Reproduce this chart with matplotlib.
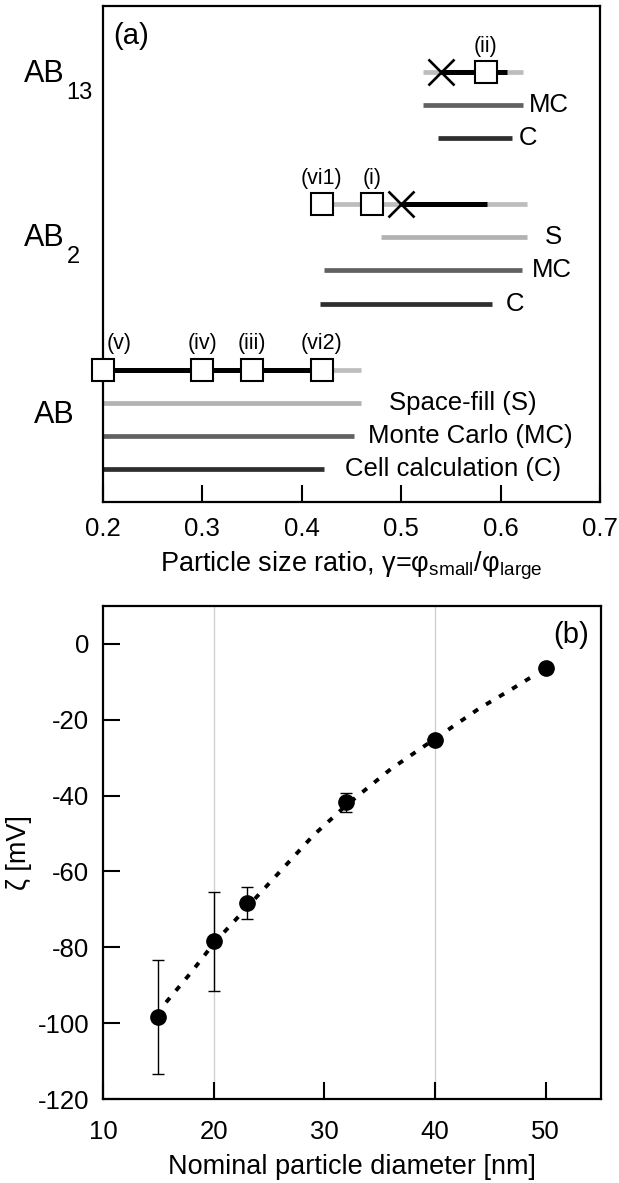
import numpy as np
import matplotlib
matplotlib.use("Agg")
import matplotlib.pyplot as plt
from matplotlib.transforms import blended_transform_factory

plt.rcParams["font.family"] = ["Liberation Sans", "DejaVu Sans"]
plt.rcParams["mathtext.fontset"] = "custom"
plt.rcParams["mathtext.rm"] = "Liberation Sans"
plt.rcParams["mathtext.it"] = "Liberation Sans:italic"
plt.rcParams["axes.unicode_minus"] = False

# ---------------------------------------------------------------- panel (a) data
# one row per horizontal bar, bottom to top (AB, then AB2, then AB13)
ROW_Y = [1, 2, 3, 6, 7, 8, 11, 12]
ROW_METHOD = ["C", "MC", "S", "C", "MC", "S", "C", "MC"]
ROW_LO = [0.200, 0.200, 0.200, 0.418, 0.422, 0.480, 0.537, 0.522]
ROW_HI = [0.422, 0.453, 0.460, 0.591, 0.622, 0.627, 0.611, 0.623]
ROW_TEXT = ["Cell calculation (C)", "Monte Carlo (MC)", "Space-fill (S)",
            "C", "MC", "S", "C", "MC"]
ROW_TEXT_X = [0.443, 0.467, 0.488, 0.605, 0.631, 0.644, 0.618, 0.628]

# experimental rows: gray = full range, black = observed range
EXP_Y = [4, 9, 13]
EXP_GRAY = [(0.200, 0.460), (0.420, 0.627), (0.522, 0.623)]
EXP_BLACK = [(0.200, 0.420), (0.500, 0.586), (0.540, 0.606)]
SQUARE_X = [0.200, 0.300, 0.350, 0.420, 0.420, 0.471, 0.585]
SQUARE_Y = [4, 4, 4, 4, 9, 9, 13]
SQUARE_TAG = ["(v)", "(iv)", "(iii)", "(vi2)", "(vi1)", "(i)", "(ii)"]
TAG_X = [0.216, 0.300, 0.350, 0.420, 0.420, 0.471, 0.585]
CROSS_X = [0.500, 0.540]
CROSS_Y = [9, 13]

GROUP_MAIN = ["AB", "AB", "AB"]
GROUP_SUB = ["", "2", "13"]
GROUP_Y = [2.39, 7.73, 12.70]
GROUP_SUB_Y = [0, 7.24, 12.18]

# ---------------------------------------------------------------- panel (b) data
DIAM = [15, 20, 23, 32, 40, 50]
ZETA = [-98.3, -78.4, -68.3, -41.7, -25.2, -6.3]
ZETA_ERR = [15.0, 13.0, 4.1, 2.5, 0.0, 0.0]
FIT_X = [15.7, 18, 20, 23, 26, 29, 32, 36, 40, 44, 47, 49]
FIT_Y = [-94.5, -86.5, -79.0, -69.5, -60.0, -50.5, -42.5, -33.0, -25.0, -17.0, -11.8, -8.2]
GRID_X = [20, 40]

COLORS = {"S": "#b2b2b2", "MC": "#616161", "C": "#2e2e2e"}
LIGHT = "#bdbdbd"

fig = plt.figure(figsize=(6.19, 11.83), dpi=100)
ax_a = fig.add_axes([0.1664, 0.5757, 0.8029, 0.4193])
ax_b = fig.add_axes([0.1664, 0.0710, 0.8045, 0.4167])

for ax in (ax_a, ax_b):
    for s in ax.spines.values():
        s.set_linewidth(1.6)

# ---- (a)
for y, m, lo, hi, txt, tx in zip(ROW_Y, ROW_METHOD, ROW_LO, ROW_HI, ROW_TEXT, ROW_TEXT_X):
    ax_a.plot([lo, hi], [y, y], color=COLORS[m], lw=3.4, solid_capstyle="butt")
    ax_a.text(tx, y, txt, fontsize=18.5, ha="left", va="center")

for y, (glo, ghi), (blo, bhi) in zip(EXP_Y, EXP_GRAY, EXP_BLACK):
    ax_a.plot([glo, ghi], [y, y], color=LIGHT, lw=3.4, solid_capstyle="butt", zorder=2)
    ax_a.plot([blo, bhi], [y, y], color="black", lw=3.6, solid_capstyle="butt", zorder=3)

ax_a.plot(CROSS_X, CROSS_Y, ls="none", marker="x", ms=19, mew=1.9, color="black", zorder=4)
ax_a.plot(SQUARE_X, SQUARE_Y, ls="none", marker="s", ms=15.5, mew=1.5,
          mfc="white", mec="black", zorder=5, clip_on=False)
for tx, y, tag in zip(TAG_X, SQUARE_Y, SQUARE_TAG):
    ax_a.text(tx, y + 0.47, tag, fontsize=15.5, ha="center", va="bottom")

tr = blended_transform_factory(ax_a.transAxes, ax_a.transData)
for main, sub, y, sy in zip(GROUP_MAIN, GROUP_SUB, GROUP_Y, GROUP_SUB_Y):
    if sub:
        ax_a.text(-0.077, y, main, fontsize=22, ha="right", va="baseline", transform=tr)
        ax_a.text(-0.073, sy, sub, fontsize=17, ha="left", va="baseline", transform=tr)
    else:
        ax_a.text(-0.058, y, main, fontsize=22, ha="right", va="baseline", transform=tr)

ax_a.text(0.02, 0.94, "(a)", fontsize=21, transform=ax_a.transAxes, ha="left", va="center")

ax_a.set_xlim(0.2, 0.7)
ax_a.set_ylim(0, 15)
ax_a.set_xticks([0.2, 0.3, 0.4, 0.5, 0.6, 0.7])
ax_a.set_xticklabels(["0.2", "0.3", "0.4", "0.5", "0.6", "0.7"])
ax_a.set_yticks([])
ax_a.tick_params(axis="x", direction="in", length=12, width=1.5, labelsize=18.5, pad=11)
ax_a.set_xlabel("Particle size ratio, γ=φ$_{\\rm small}$/φ$_{\\rm large}$", fontsize=19.5, labelpad=6)

# ---- (b)
for gx in GRID_X:
    ax_b.axvline(gx, color="#d0d0d0", lw=1.0, zorder=0)
ax_b.plot(FIT_X, FIT_Y, color="black", lw=2.8, ls=(0, (1.5, 2.4)), zorder=2)
ax_b.errorbar(DIAM, ZETA, yerr=ZETA_ERR, fmt="o", color="black", ms=11,
              ecolor="black", elinewidth=1.0, capsize=4.5, capthick=1.0, zorder=3)
ax_b.text(0.976, 0.941, "(b)", fontsize=21, transform=ax_b.transAxes, ha="right", va="center")

ax_b.set_xlim(10, 55)
ax_b.set_ylim(-120, 10)
ax_b.set_xticks([10, 20, 30, 40, 50])
ax_b.set_yticks([-120, -100, -80, -60, -40, -20, 0])
ax_b.tick_params(direction="in", length=12, width=1.5, labelsize=18.5)
ax_b.tick_params(axis="x", pad=15)
ax_b.tick_params(axis="y", pad=10)
ax_b.set_xlabel("Nominal particle diameter [nm]", fontsize=19.5, labelpad=7)
ax_b.set_ylabel("ζ [mV]", fontsize=19.5, labelpad=4)

fig.savefig("out.png", dpi=100)
